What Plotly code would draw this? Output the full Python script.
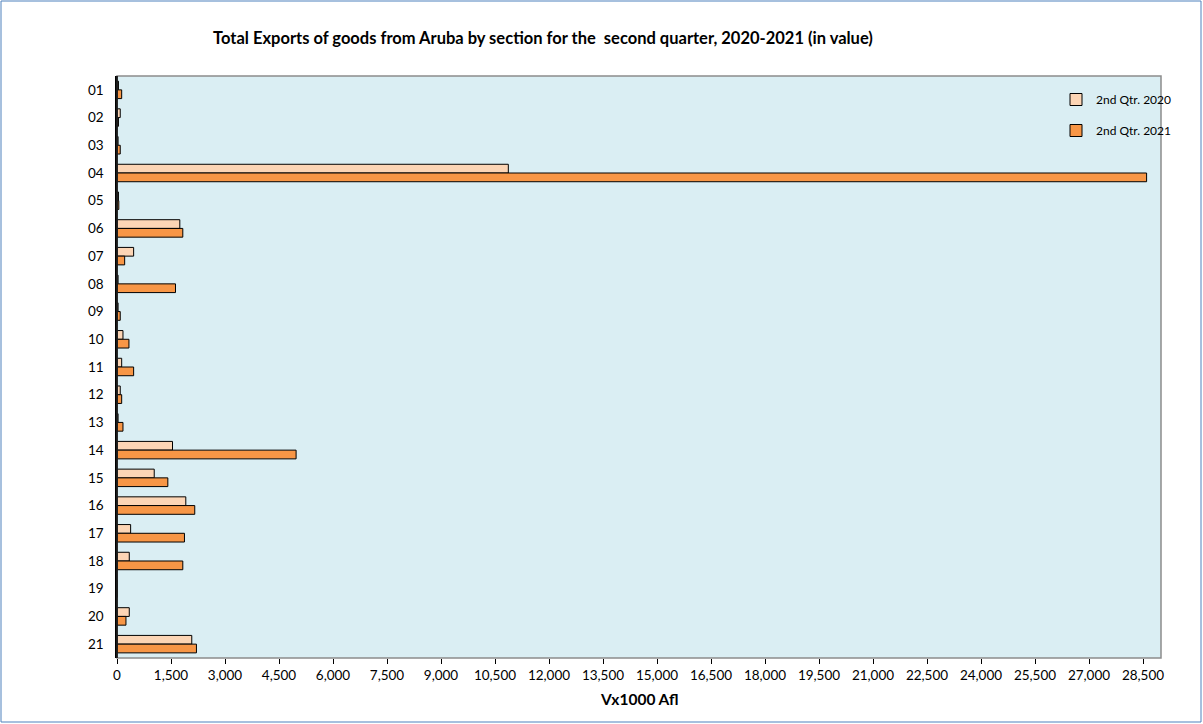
import plotly.graph_objects as go

sections = ["01", "02", "03", "04", "05", "06", "07", "08", "09", "10", "11",
            "12", "13", "14", "15", "16", "17", "18", "19", "20", "21"]
q2_2020 = [40, 90, 30, 10870, 40, 1745, 462, 30, 30, 166, 130,
           90, 30, 1542, 1034, 1911, 379, 341, 0, 341, 2077]
q2_2021 = [130, 40, 90, 28600, 50, 1828, 213, 1625, 90, 332, 462,
           130, 166, 4975, 1412, 2160, 1874, 1828, 0, 249, 2207]
x_ticks = list(range(0, 28501, 1500))

W, H = 1203, 724
L, R, T, B = 117, 42, 76, 66
pw, ph = W - L - R, H - T - B

def px(x):
    return (x - L) / pw

def py(y):
    return (H - B - y) / ph

FONT = "Lato"

fig = go.Figure()
fig.add_trace(go.Bar(
    y=sections, x=q2_2020, orientation="h", name="2nd Qtr. 2020",
    marker=dict(color="#FCD5B5", line=dict(color="#000000", width=1)),
    legendgroup="a",
))
fig.add_trace(go.Bar(
    y=sections, x=q2_2021, orientation="h", name="2nd Qtr. 2021",
    marker=dict(color="#F79646", line=dict(color="#000000", width=1)),
    legendgroup="b",
))

fig.update_layout(
    width=W, height=H,
    margin=dict(l=L, r=R, t=T, b=B, pad=0),
    paper_bgcolor="white",
    plot_bgcolor="#DAEEF3",
    font=dict(family=FONT, size=13.5, color="#000000"),
    barmode="group",
    bargap=0.37,
    bargroupgap=0,
    title=dict(
        text="<b>Total Exports of goods from Aruba by section for the  second quarter, 2020-2021 (in value)</b>",
        x=543 / W, xanchor="center", y=1 - 38 / H, yanchor="middle",
        font=dict(family=FONT, size=16.5, color="#000000"),
    ),
    legend=dict(
        x=px(1056), xanchor="left", y=py(85), yanchor="top",
        bgcolor="rgba(0,0,0,0)", font=dict(size=12),
        traceorder="grouped", tracegroupgap=12, itemwidth=30,
    ),
    xaxis=dict(
        range=[0, 29000], tickvals=x_ticks, tickformat=",d",
        showgrid=False, zeroline=False,
        ticks="outside", ticklen=5, tickcolor="#000000",
        showline=False,
    ),
    yaxis=dict(
        autorange="reversed", type="category",
        showgrid=False, zeroline=False,
        showline=True, linecolor="#000000", linewidth=1.5,
        ticks="outside", ticklen=9, tickcolor="rgba(0,0,0,0)",
    ),
    annotations=[
        dict(text="<b>Vx1000 Afl</b>", xref="paper", yref="paper",
             x=0.5, y=py(699), xanchor="center", yanchor="middle",
             showarrow=False, font=dict(family=FONT, size=15.5, color="#000000")),
    ],
    shapes=[
        dict(type="rect", xref="paper", yref="paper", x0=0, x1=1, y0=0, y1=1,
             line=dict(color="#8C8C8C", width=1.5), layer="above"),
        dict(type="line", xref="paper", yref="paper", x0=0, x1=0, y0=0, y1=1,
             line=dict(color="#000000", width=1.5), layer="above"),
        dict(type="rect", xref="paper", yref="paper",
             x0=px(1), x1=px(W - 2), y0=py(H - 2), y1=py(1),
             line=dict(color="#4F81BD", width=1), layer="below"),
    ],
)

fig.write_html("out.html", config={"displayModeBar": False},
               post_script="document.body.style.margin='0';")
